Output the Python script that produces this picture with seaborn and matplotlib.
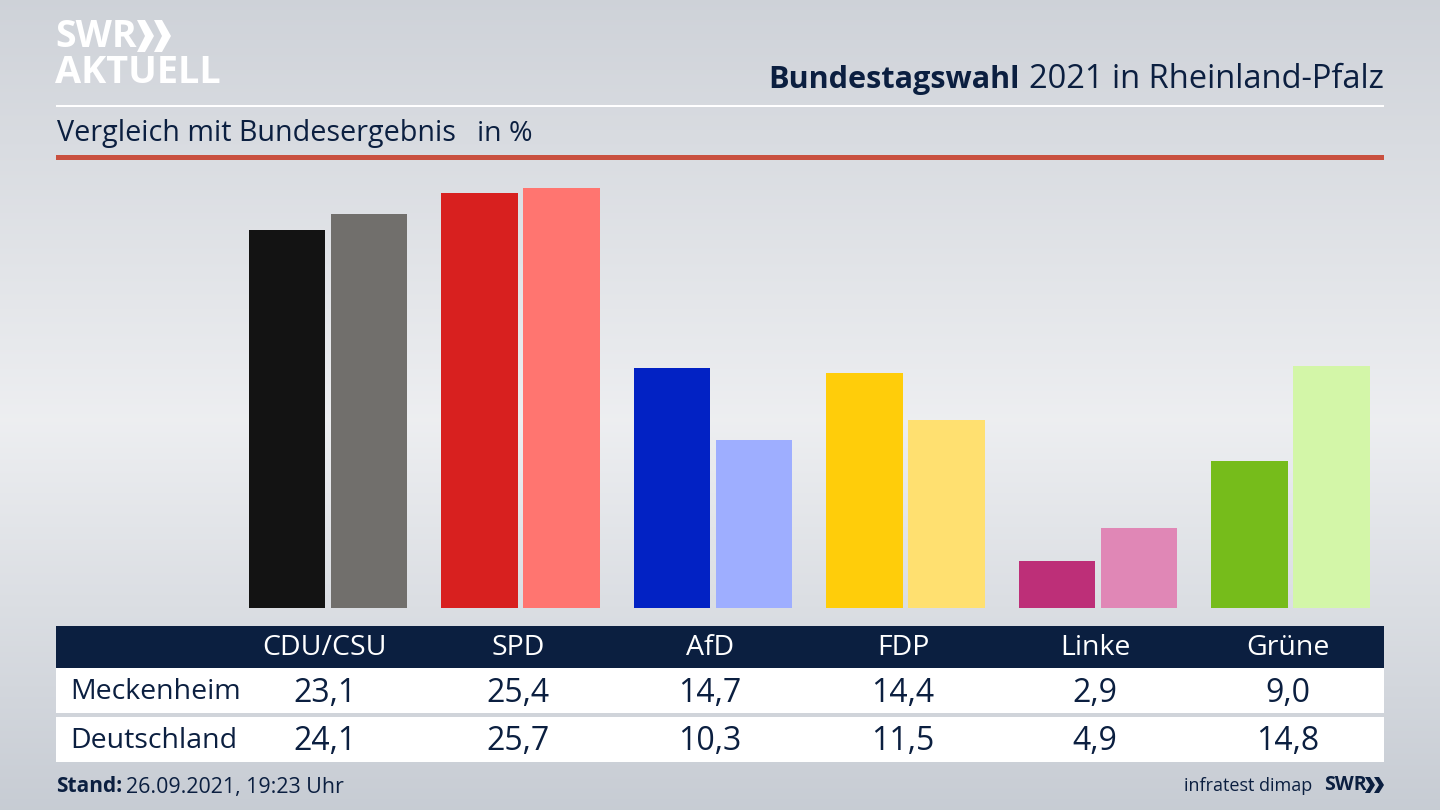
import numpy as np
import pandas as pd
import matplotlib
matplotlib.use("Agg")
import matplotlib.pyplot as plt
from matplotlib.patches import Rectangle, Polygon
import seaborn as sns

parties = ["CDU/CSU", "SPD", "AfD", "FDP", "Linke", "Grüne"]
meckenheim = [23.1, 25.4, 14.7, 14.4, 2.9, 9.0]
deutschland = [24.1, 25.7, 10.3, 11.5, 4.9, 14.8]
labels_m = ["23,1", "25,4", "14,7", "14,4", "2,9", "9,0"]
labels_d = ["24,1", "25,7", "10,3", "11,5", "4,9", "14,8"]
colors_m = ["#131313", "#d8201f", "#0222c4", "#ffcd0a", "#bd2f78", "#76bc1b"]
colors_d = ["#716f6c", "#ff7570", "#9eaeff", "#ffe070", "#e087b6", "#d3f6a8"]
NAVY = "#0b1f40"
FONT = ["Open Sans", "DejaVu Sans"]

sns.set_theme(style="white")
plt.rcParams["font.family"] = FONT

W, H = 1440, 810
fig = plt.figure(figsize=(W/100, H/100), dpi=100)

# background gradient
bg = fig.add_axes([0, 0, 1, 1], zorder=0)
bg.axis("off")
stops_y = np.array([0, 420, 810])
stops_v = np.array([[0.81, 0.825, 0.85], [0.93, 0.935, 0.945], [0.78, 0.80, 0.83]])
yy = np.arange(H)
grad = np.stack([np.interp(yy, stops_y, stops_v[:, i]) for i in range(3)], axis=1)[:, None, :]
bg.imshow(grad, aspect="auto", extent=[0, W, H, 0])
bg.set_xlim(0, W); bg.set_ylim(H, 0)

def rect(x0, y0, x1, y1, c):
    bg.add_patch(Rectangle((x0, y0), x1-x0, y1-y0, color=c, lw=0))

rect(56, 104.5, 1384, 107, "white")
rect(56, 155, 1384, 160, "#c9503f")
rect(56, 626, 1384, 668, NAVY)
rect(56, 668, 1384, 713, "white")
rect(56, 717, 1384, 762, "white")

# bars
ax = fig.add_axes([0, 0, 1, 1], zorder=1)
ax.patch.set_alpha(0)
df = pd.DataFrame({
    "party": parties * 2,
    "region": ["Meckenheim"] * 6 + ["Deutschland"] * 6,
    "value": meckenheim + deutschland,
})
top_px, base_px = 188, 608
sns.barplot(data=df, x="party", y="value", hue="region", ax=ax, legend=False,
            width=0.852, gap=0.073, saturation=1, order=parties,
            palette={"Meckenheim": "#000", "Deutschland": "#888"})
for i, bar in enumerate(ax.patches[:12]):
    c = (colors_m + colors_d)[i]
    bar.set_facecolor(c); bar.set_edgecolor("none")
step = 192.5
x0 = 328.0
ax.set_xlim(-x0/step, (W-x0)/step)
scale = (base_px-top_px)/25.7
ax.set_ylim(-(H-base_px)/scale, base_px/scale)
ax.axis("off")

# text
def t(x, y, s, size, color="#111", ha="center", **k):
    bg.text(x, y, s, fontsize=size, color=color, ha=ha, va="center", **k)

cx = [325, 518, 710, 903, 1095, 1288]
for x, p, a, b in zip(cx, parties, labels_m, labels_d):
    t(x, 648, p, 20.5, "white")
    t(x, 693, a, 23, NAVY)
    t(x, 742, b, 23, NAVY)
t(70, 692, "Meckenheim", 20.5, NAVY, ha="left")
t(70, 741, "Deutschland", 20.5, NAVY, ha="left")

bg.text(1384, 80, "2021 in Rheinland-Pfalz", fontsize=23.5, color=NAVY, ha="right", va="center")
bg.text(1020, 80, "Bundestagswahl", fontsize=22.1, color=NAVY, ha="right", va="center", fontweight="bold")
t(57, 134, "Vergleich mit Bundesergebnis", 20.7, NAVY, ha="left")
t(477, 134, "in %", 20.5, NAVY, ha="left")
t(56, 787, "Stand:", 15, NAVY, ha="left", fontweight="bold")
t(126, 787, "26.09.2021, 19:23 Uhr", 15.4, NAVY, ha="left")
t(1312, 786, "infratest dimap", 13, NAVY, ha="right")
t(1324, 785, "SWR", 14, NAVY, ha="left", fontweight="bold")
for off in (0, 9):
    bg.add_patch(Polygon([[1365+off,777],[1370+off,777],[1375+off,785],[1370+off,793],[1365+off,793],[1370+off,785]], color=NAVY, lw=0))

# logo
t(55, 37, "SWR", 27, "white", ha="left", fontweight="bold")
t(55, 73, "AKTUELL", 27.3, "white", ha="left", fontweight="bold")
for off in (0, 17):
    bg.add_patch(Polygon([[137+off,20],[145+off,20],[154+off,36],[145+off,52],[137+off,52],[145+off,36]], color="white", lw=0))

fig.savefig("out.png", dpi=100)
